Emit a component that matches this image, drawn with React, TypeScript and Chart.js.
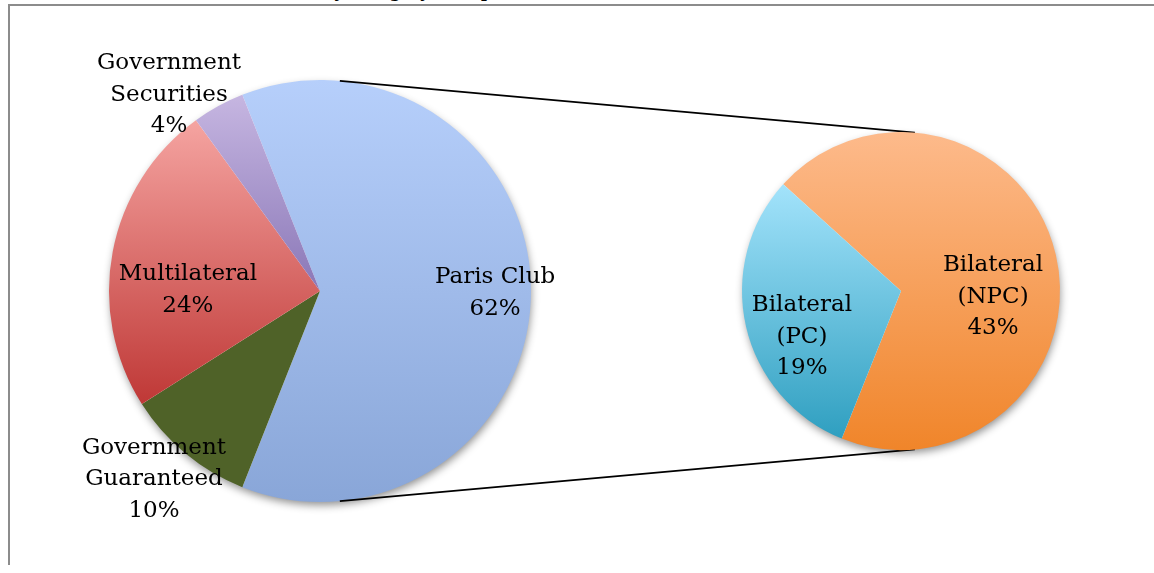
import React, { useEffect, useRef } from "react";
import { Chart, registerables } from "chart.js";

Chart.register(...registerables);

// ---- data ----
const titleText = "Chart 3: Total External Debt Stock by Category/ Composition (US$ Millions)";
const mainLabels = ["Paris Club", "Government\nGuaranteed", "Multilateral", "Government\nSecurities"];
const mainValues = [62, 10, 24, 4];
const splitLabels = ["Bilateral\n(NPC)", "Bilateral\n(PC)"];
const splitValues = [43, 19];

// ---- styles ----
const mainTop = ["#b6cffb", "#4f6228", "#f5a4a1", "#c6b6e1"];
const mainBottom = ["#89a6d8", "#4f6228", "#bf3836", "#8a77b7"];
const splitTop = ["#fdba8b", "#a3e3fb"];
const splitBottom = ["#f0852a", "#2f9fc0"];
const mainLabelPos = [
  { a: 90.6, f: 0.83 },
  { a: 221.4, f: 1.19 },
  { a: 270.4, f: 0.626 },
  { a: 322.4, f: 1.173 },
];
const splitLabelPos = [
  { a: 93.7, f: 0.58 },
  { a: 245.1, f: 0.687 },
];
const mainRotation = -21.6;
const splitRotation = -47.8;
const W = 1144;
const H = 559;
const FONT = "'DejaVu Serif', serif";

function sliceGradient(top: string[], bottom: string[], rotation: number) {
  return (c: any) => {
    const chart = c.chart;
    const area = chart.chartArea;
    const i = c.dataIndex;
    if (!area || i === undefined) return top[i ?? 0];
    const data = chart.data.datasets[0].data as number[];
    const total = data.reduce((s, v) => s + v, 0);
    let start = rotation;
    for (let k = 0; k < i; k++) start += (data[k] / total) * 360;
    const end = start + (data[i] / total) * 360;
    const cx = (area.left + area.right) / 2;
    const cy = (area.top + area.bottom) / 2;
    const r = Math.min(area.right - area.left, area.bottom - area.top) / 2;
    const yAt = (deg: number) => cy + r * Math.sin(((deg - 90) * Math.PI) / 180);
    const ys = [cy, yAt(start), yAt(end)];
    for (let k = -2; k <= 2; k++) {
      const b = 180 + 360 * k;
      const t = 360 * k;
      if (b >= start && b <= end) ys.push(cy + r);
      if (t >= start && t <= end) ys.push(cy - r);
    }
    const y0 = Math.min(...ys);
    const y1 = Math.max(...ys);
    const g = chart.ctx.createLinearGradient(0, y0, 0, y1 + 0.01);
    g.addColorStop(0, top[i]);
    g.addColorStop(1, bottom[i]);
    return g;
  };
}

const shadowPlugin = {
  id: "pieShadow",
  beforeDatasetsDraw(chart: any) {
    const arc = chart.getDatasetMeta(0).data[0];
    if (!arc) return;
    const ctx = chart.ctx;
    ctx.save();
    ctx.shadowColor = "rgba(0,0,0,0.45)";
    ctx.shadowBlur = 9;
    ctx.shadowOffsetX = 1;
    ctx.shadowOffsetY = 4;
    ctx.fillStyle = "#ffffff";
    ctx.beginPath();
    ctx.arc(arc.x, arc.y, arc.outerRadius - 1, 0, Math.PI * 2);
    ctx.fill();
    ctx.restore();
  },
};

function labelPlugin(labels: string[], values: number[], pos: { a: number; f: number }[]) {
  return {
    id: "sliceLabels",
    afterDatasetsDraw(chart: any) {
      const arc = chart.getDatasetMeta(0).data[0];
      if (!arc) return;
      const ctx = chart.ctx;
      ctx.save();
      ctx.font = `23px ${FONT}`;
      ctx.fillStyle = "#000000";
      ctx.textAlign = "center";
      ctx.textBaseline = "middle";
      const lh = 31.5;
      labels.forEach((lab, i) => {
        const lines = [...lab.split("\n"), `${values[i]}%`];
        const ang = (pos[i].a * Math.PI) / 180;
        const x = arc.x + pos[i].f * arc.outerRadius * Math.sin(ang);
        const y = arc.y - pos[i].f * arc.outerRadius * Math.cos(ang);
        const y0 = y - ((lines.length - 1) * lh) / 2;
        lines.forEach((ln, j) => ctx.fillText(ln, x, y0 + j * lh));
      });
      ctx.restore();
    },
  };
}

function connectorPlugin(getLeft: () => Chart | null) {
  return {
    id: "connectors",
    beforeDatasetsDraw(chart: any) {
      const left = getLeft();
      if (!left) return;
      const a = left.getDatasetMeta(0).data[0] as any;
      const b = chart.getDatasetMeta(0).data[0];
      if (!a || !b) return;
      const pt = (el: any, deg: number) => {
        const t = (deg * Math.PI) / 180;
        return [el.x + el.outerRadius * Math.sin(t), el.y - el.outerRadius * Math.cos(t)];
      };
      const ctx = chart.ctx;
      ctx.save();
      ctx.strokeStyle = "#000000";
      ctx.lineWidth = 1.8;
      const pairs = [
        [pt(a, 5.4), pt(b, 5)],
        [pt(a, 174.6), pt(b, 175)],
      ];
      pairs.forEach(([p, q]) => {
        ctx.beginPath();
        ctx.moveTo(p[0], p[1]);
        ctx.lineTo(q[0], q[1]);
        ctx.stroke();
      });
      ctx.restore();
    },
  };
}

export default function App() {
  const leftRef = useRef<HTMLCanvasElement>(null);
  const rightRef = useRef<HTMLCanvasElement>(null);

  useEffect(() => {
    let leftChart: Chart | null = null;
    leftChart = new Chart(leftRef.current!, {
      type: "pie",
      data: {
        labels: mainLabels,
        datasets: [
          {
            data: mainValues,
            backgroundColor: sliceGradient(mainTop, mainBottom, mainRotation) as any,
            borderWidth: 0,
          },
        ],
      },
      options: {
        responsive: false,
        animation: false,
        rotation: mainRotation,
        layout: { padding: { left: 99, right: W - 521, top: 74, bottom: H - 496 } },
        plugins: { legend: { display: false }, tooltip: { enabled: false } },
      },
      plugins: [shadowPlugin, labelPlugin(mainLabels, mainValues, mainLabelPos)],
    });
    const rightChart = new Chart(rightRef.current!, {
      type: "pie",
      data: {
        labels: splitLabels,
        datasets: [
          {
            data: splitValues,
            backgroundColor: sliceGradient(splitTop, splitBottom, splitRotation) as any,
            borderWidth: 0,
          },
        ],
      },
      options: {
        responsive: false,
        animation: false,
        rotation: splitRotation,
        layout: { padding: { left: 732, right: W - 1050, top: 126, bottom: H - 444 } },
        plugins: { legend: { display: false }, tooltip: { enabled: false } },
      },
      plugins: [
        connectorPlugin(() => leftChart),
        shadowPlugin,
        labelPlugin(splitLabels, splitValues, splitLabelPos),
      ],
    });
    return () => {
      rightChart.destroy();
      leftChart?.destroy();
    };
  }, []);

  return (
    <div
      style={{
        position: "absolute",
        left: 8,
        top: 4,
        width: W,
        height: H,
        borderTop: "2px solid #8c8c8c",
        borderLeft: "2px solid #8c8c8c",
      }}
    >
      <div
        style={{
          position: "absolute",
          right: 464,
          top: -24.5,
          font: `bold 16px/20px ${FONT}`,
          whiteSpace: "nowrap",
          color: "#000",
        }}
      >
        {titleText}
      </div>
      <canvas
        ref={leftRef}
        width={W}
        height={H}
        style={{ position: "absolute", left: 0, top: 0, width: W, height: H }}
      />
      <canvas
        ref={rightRef}
        width={W}
        height={H}
        style={{ position: "absolute", left: 0, top: 0, width: W, height: H }}
      />
    </div>
  );
}
